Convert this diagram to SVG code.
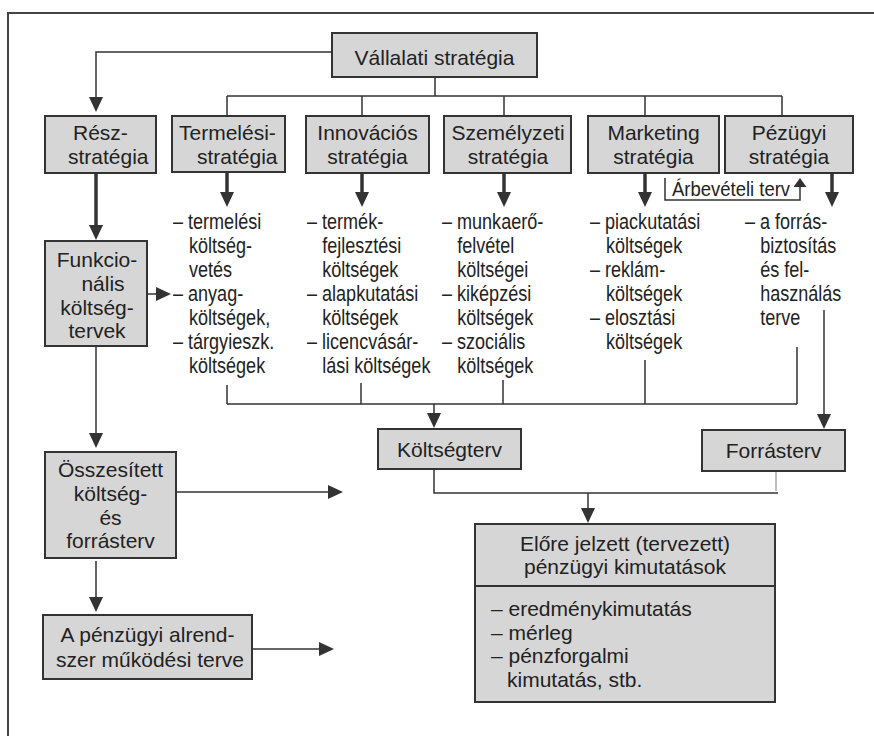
<svg xmlns="http://www.w3.org/2000/svg" width="874" height="736" viewBox="0 0 874 736">
<style>
.box{fill:#d6d6d6;stroke:#333;stroke-width:2}
.t{font-family:"Liberation Sans",Arial,sans-serif;font-size:21px;fill:#222}
.c{text-anchor:middle}
.li{font-family:"Liberation Sans",Arial,sans-serif;font-size:22px;fill:#222}
.ln{fill:none;stroke:#333;stroke-width:1.5}
.thk{fill:none;stroke:#333;stroke-width:3.5}
</style>
<defs>
<marker id="ah" markerUnits="userSpaceOnUse" markerWidth="15" markerHeight="14" refX="4" refY="7" orient="auto"><path d="M0,0 L15,7 L0,14 z" fill="#333"/></marker>
<marker id="ahs" markerUnits="userSpaceOnUse" markerWidth="9" markerHeight="13" refX="3" refY="6.5" orient="auto"><path d="M0,0 L9,6.5 L0,13 z" fill="#333"/></marker>
</defs>
<rect width="874" height="736" fill="#fff"/>
<path d="M8,736 V13 H874" fill="none" stroke="#444" stroke-width="2"/>

<g id="connectors">
<path class="ln" d="M332,52 H96 V101" marker-end="url(#ah)"/>
<path class="ln" d="M435,77 V96 M227,96 H782 M227,96 V116 M362,96 V116 M504,96 V116 M645,96 V116 M782,96 V116"/>
<path class="thk" d="M96,173 V229" marker-end="url(#ah)"/>
<path class="thk" d="M227,173 V196" marker-end="url(#ah)"/>
<path class="thk" d="M362,173 V196" marker-end="url(#ah)"/>
<path class="thk" d="M504,173 V196" marker-end="url(#ah)"/>
<path class="thk" d="M645,173 V196" marker-end="url(#ah)"/>
<path class="thk" d="M832,173 V196" marker-end="url(#ah)"/>
<path class="ln" d="M147,294 H160" marker-end="url(#ah)"/>
<path class="ln" d="M96,346 V437" marker-end="url(#ah)"/>
<path class="ln" d="M176,492 H332" marker-end="url(#ah)"/>
<path class="ln" d="M96,561 V601" marker-end="url(#ah)"/>
<path class="ln" d="M252,649 H323" marker-end="url(#ah)"/>
<path class="ln" d="M665,178 V200 H800 V184" marker-end="url(#ahs)"/>
<path class="ln" d="M227,385 V404 M361,383 V404 M503,380 V404 M645,360 V404 M797,347 V404 M227,404 H797"/>
<path class="ln" d="M434,404 V417" marker-end="url(#ah)"/>
<path class="ln" d="M824,310 V418" marker-end="url(#ah)"/>
<path class="ln" d="M434,469 V493 H778"/>
<path fill="none" stroke="#aaa" stroke-width="1.5" d="M776,471 V491"/>
<path class="ln" d="M588,493 V512" marker-end="url(#ah)"/>
<g transform="translate(672,196) scale(0.88,1)"><text class="t" x="0" y="0">Árbevételi terv</text></g>
</g>

<g id="vallalati">
<rect class="box" x="332" y="33" width="205" height="44"/>
<text class="t c" x="434.5" y="65">Vállalati stratégia</text>
</g>
<g id="resz">
<rect class="box" x="45" y="116" width="111" height="57"/>
<text class="t" x="73" y="140">Rész-</text>
<text class="t" x="68" y="164">stratégia</text>
</g>
<g id="termelesi">
<rect class="box" x="172" y="116" width="113" height="56"/>
<text class="t" x="179" y="140">Termelési-</text>
<text class="t" x="197" y="164">stratégia</text>
</g>
<g id="innovacios">
<rect class="box" x="306" y="116" width="123" height="57"/>
<text class="t c" x="367.5" y="140">Innovációs</text>
<text class="t c" x="367.5" y="164">stratégia</text>
</g>
<g id="szemelyzeti">
<rect class="box" x="444" y="116" width="127" height="57"/>
<text class="t c" x="508" y="140">Személyzeti</text>
<text class="t c" x="508" y="164">stratégia</text>
</g>
<g id="marketing">
<rect class="box" x="588" y="116" width="131" height="57"/>
<text class="t c" x="653.5" y="140">Marketing</text>
<text class="t c" x="653.5" y="164">stratégia</text>
</g>
<g id="penzugyi">
<rect class="box" x="725" y="116" width="128" height="57"/>
<text class="t c" x="789" y="140">Pézügyi</text>
<text class="t c" x="789" y="164">stratégia</text>
</g>

<g id="funkcionalis">
<rect class="box" x="45" y="241" width="102" height="105"/>
<text class="t c" x="97" y="267">Funkcio-</text>
<text class="t c" x="103" y="291">nális</text>
<text class="t c" x="97" y="315">költség-</text>
<text class="t c" x="97" y="338">tervek</text>
</g>

<g id="lista-termelesi" transform="translate(173,0) scale(0.82,1)">
<text class="li"><tspan x="0" y="229">– termelési</tspan><tspan x="19.5" y="253">költség-</tspan><tspan x="19.5" y="277">vetés</tspan><tspan x="0" y="301">– anyag-</tspan><tspan x="19.5" y="325">költségek,</tspan><tspan x="0" y="349">– tárgyieszk.</tspan><tspan x="19.5" y="373">költségek</tspan></text>
</g>
<g id="lista-innovacios" transform="translate(307,0) scale(0.82,1)">
<text class="li"><tspan x="0" y="229">– termék-</tspan><tspan x="18.5" y="253">fejlesztési</tspan><tspan x="18.5" y="277">költségek</tspan><tspan x="0" y="301">– alapkutatási</tspan><tspan x="18.5" y="325">költségek</tspan><tspan x="0" y="349">– licencvásár-</tspan><tspan x="18.5" y="373">lási költségek</tspan></text>
</g>
<g id="lista-szemelyzeti" transform="translate(442,0) scale(0.82,1)">
<text class="li"><tspan x="0" y="229">– munkaerő-</tspan><tspan x="18.5" y="253">felvétel</tspan><tspan x="18.5" y="277">költségei</tspan><tspan x="0" y="301">– kiképzési</tspan><tspan x="18.5" y="325">költségek</tspan><tspan x="0" y="349">– szociális</tspan><tspan x="18.5" y="373">költségek</tspan></text>
</g>
<g id="lista-marketing" transform="translate(590,0) scale(0.82,1)">
<text class="li"><tspan x="0" y="229">– piackutatási</tspan><tspan x="19.5" y="253">költségek</tspan><tspan x="0" y="277">– reklám-</tspan><tspan x="19.5" y="301">költségek</tspan><tspan x="0" y="325">– elosztási</tspan><tspan x="19.5" y="349">költségek</tspan></text>
</g>
<g id="lista-penzugyi" transform="translate(745,0) scale(0.82,1)">
<text class="li"><tspan x="0" y="229">– a forrás-</tspan><tspan x="18.5" y="253">biztosítás</tspan><tspan x="18.5" y="277">és fel-</tspan><tspan x="18.5" y="301">használás</tspan><tspan x="18.5" y="325">terve</tspan></text>
</g>

<g id="koltsegterv">
<rect class="box" x="378" y="429" width="143" height="40"/>
<text class="t c" x="449.5" y="457">Költségterv</text>
</g>
<g id="forrasterv">
<rect class="box" x="702" y="430" width="143" height="41"/>
<text class="t c" x="773.5" y="458">Forrásterv</text>
</g>

<g id="osszesitett">
<rect class="box" x="45" y="452" width="131" height="106"/>
<text class="t c" x="110.5" y="477">Összesített</text>
<text class="t c" x="110.5" y="501">költség-</text>
<text class="t c" x="110.5" y="525">és</text>
<text class="t c" x="110.5" y="548">forrásterv</text>
</g>

<g id="alrendszer">
<rect class="box" x="43" y="615" width="209" height="64"/>
<text class="t c" x="147.5" y="642">A pénzügyi alrend-</text>
<text class="t c" x="150" y="667">szer működési terve</text>
</g>

<g id="kimutatasok">
<rect class="box" x="475" y="524" width="300" height="178"/>
<path class="ln" d="M475,586 H775" style="stroke-width:2"/>
<text class="t c" x="625" y="551">Előre jelzett (tervezett)</text>
<text class="t c" x="625" y="574">pénzügyi kimutatások</text>
<text class="t"><tspan x="491" y="616">– eredménykimutatás</tspan><tspan x="491" y="640">– mérleg</tspan><tspan x="491" y="663">– pénzforgalmi</tspan><tspan x="507" y="687">kimutatás, stb.</tspan></text>
</g>
</svg>
